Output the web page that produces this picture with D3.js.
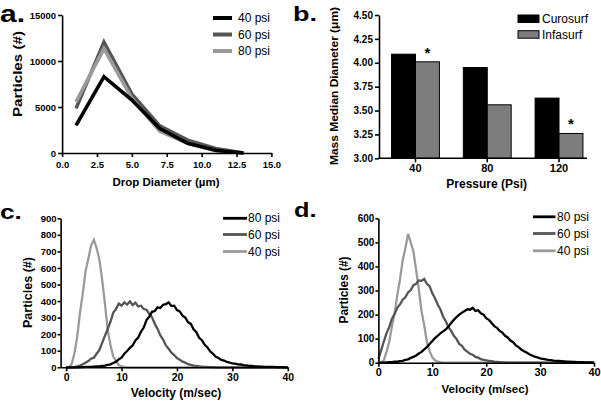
<!DOCTYPE html>
<html><head><meta charset="utf-8">
<script src="https://cdn.jsdelivr.net/npm/d3@7"></script>
<style>
body{margin:0;background:#fff;}
svg{display:block;font-family:"Liberation Sans",Arial,Helvetica,sans-serif;}
</style></head><body>
<svg id="chart" width="601" height="403"></svg>
<script>
// ---------- Panel a: droplet size distribution ----------
const dropDiameters = [1, 3, 5, 7, 9, 11, 13];
const drop40 = [3000, 8300, 5750, 2650, 1050, 300, 0];
const drop60 = [4850, 12050, 6400, 2950, 1400, 480, 0];
const drop80 = [5550, 11350, 5950, 2350, 1050, 250, 0];
const aXTicks = [0, 2.5, 5, 7.5, 10, 12.5, 15];
const aYTicks = [0, 5000, 10000, 15000];
const aLegend = ["40 psi", "60 psi", "80 psi"];

// ---------- Panel b: mass median diameter ----------
const pressures = ["40", "80", "120"];
const surfactants = ["Curosurf", "Infasurf"];
const curosurf = [4.09, 3.95, 3.63];
const infasurf = [4.01, 3.56, 3.26];
const infasurfStar = [true, false, true];
const bYTicks = [3.00, 3.25, 3.50, 3.75, 4.00, 4.25, 4.50];

// ---------- Panels c, d: velocity distributions ----------
const velocity = [
  0,0.5,1,1.5,2,2.5,3,3.5,4,4.5,
  5,5.5,6,6.5,7,7.5,8,8.5,9,9.5,
  10,10.5,11,11.5,12,12.5,13,13.5,14,14.5,
  15,15.5,16,16.5,17,17.5,18,18.5,19,19.5,
  20,20.5,21,21.5,22,22.5,23,23.5,24,24.5,
  25,25.5,26,26.5,27,27.5,28,28.5,29,29.5,
  30,30.5,31,31.5,32,32.5,33,33.5,34,34.5,
  35,35.5,36,36.5,37,37.5,38,38.5,39,39.5,
  40];
const vTicks = [0, 10, 20, 30, 40];
const vLegend = ["80 psi", "60 psi", "40 psi"];

// panel c
const c80 = [
  0,0,0,0,0,1,1,2,2,3,
  4,5,6,8,10,14,18,26,34,48,
  58,82,98,118,132,162,180,215,240,285,
  305,335,340,362,358,378,382,392,370,372,
  345,338,312,300,272,262,230,212,178,164,
  136,120,96,82,64,56,45,41,32,29,
  24,22,18,17,13,12,9,9,6,6,
  4,4,3,2,2,2,1,1,1,0,
  0];
const c60 = [
  0,0,0,2,5,10,18,28,38,52,
  58,82,105,148,190,232,275,330,352,385,
  372,392,378,398,376,390,368,372,352,348,
  322,302,262,232,192,168,132,112,88,74,
  56,46,34,28,19,15,10,8,5,4,
  2,2,1,1,0,0,0,0,0,0,
  0,0,0,0,0,0,0,0,0,0,
  0,0,0,0,0,0,0,0,0,0,
  0];
const c40 = [
  0,0,20,85,185,330,445,580,655,735,
  770,720,650,530,385,225,135,65,38,14,
  6,2,0,0,0,0,0,0,0,0,
  0,0,0,0,0,0,0,0,0,0,
  0,0,0,0,0,0,0,0,0,0,
  0,0,0,0,0,0,0,0,0,0,
  0,0,0,0,0,0,0,0,0,0,
  0,0,0,0,0,0,0,0,0,0,
  0];
const cYTicks = [0,100,200,300,400,500,600,700,800,900];

// panel d
const d80 = [
  0,0,0,1,2,2,4,4,6,8,
  12,14,20,24,30,38,45,55,65,78,
  90,102,112,122,130,138,150,165,178,190,
  200,208,215,222,220,228,215,218,205,200,
  185,178,165,152,145,132,125,112,105,92,
  85,72,65,55,48,42,35,30,25,22,
  18,16,14,12,11,9,8,7,6,5,
  4,4,3,3,2,2,2,1,1,1,
  0];
const d60 = [
  15,50,88,122,148,182,202,228,242,262,
  272,292,302,322,328,342,340,348,328,318,
  288,268,242,222,192,172,148,132,112,98,
  78,70,54,46,37,33,24,21,15,12,
  10,8,6,4,3,2,1,1,0,0,
  0,0,0,0,0,0,0,0,0,0,
  0,0,0,0,0,0,0,0,0,0,
  0,0,0,0,0,0,0,0,0,0,
  0];
const d40 = [
  0,0,10,45,85,150,205,280,345,425,
  475,535,500,462,385,305,215,155,85,48,
  22,10,4,2,0,0,0,0,0,0,
  0,0,0,0,0,0,0,0,0,0,
  0,0,0,0,0,0,0,0,0,0,
  0,0,0,0,0,0,0,0,0,0,
  0,0,0,0,0,0,0,0,0,0,
  0,0,0,0,0,0,0,0,0,0,
  0];
const dYTicks = [0,100,200,300,400,500,600];

// ---------- drawing ----------
const FONT = '"Liberation Sans",Arial,Helvetica,sans-serif';
const BLACK = "#000", DARK = "#555", LIGHT = "#9a9a9a";
const svg = d3.select("#chart");

function styleAxis(g, fs) {
  g.attr("font-family", FONT).attr("font-size", fs).attr("font-weight", "bold");
  g.select(".domain").attr("stroke", BLACK).attr("stroke-width", 1.6);
  g.selectAll(".tick line").attr("stroke", BLACK).attr("stroke-width", 1.6);
  g.selectAll(".tick text").attr("fill", BLACK);
}
function panelLetter(txt, x, y, fs, sx) {
  svg.append("text").text(txt)
    .attr("transform", `translate(${x},${y}) scale(${sx},1)`)
    .attr("font-family", FONT).attr("font-weight", "bold").attr("font-size", fs).attr("fill", BLACK);
}
function yTitle(txt, cx, cy, fs, len) {
  const t = svg.append("text").text(txt)
    .attr("transform", `translate(${cx},${cy}) rotate(-90)`)
    .attr("text-anchor", "middle").attr("dominant-baseline", "central")
    .attr("font-family", FONT).attr("font-weight", "bold").attr("font-size", fs).attr("fill", BLACK);
  if (len) t.attr("textLength", len).attr("lengthAdjust", "spacingAndGlyphs");
}
function xTitle(txt, cx, y, fs) {
  svg.append("text").text(txt).attr("x", cx).attr("y", y)
    .attr("text-anchor", "middle")
    .attr("font-family", FONT).attr("font-weight", "bold").attr("font-size", fs).attr("fill", BLACK);
}
function lineLegend(labels, colors, x0, x1, tx, ys, sw, fs) {
  labels.forEach((lab, i) => {
    svg.append("line").attr("x1", x0).attr("x2", x1).attr("y1", ys[i]).attr("y2", ys[i])
      .attr("stroke", colors[i]).attr("stroke-width", sw);
    svg.append("text").text(lab).attr("x", tx).attr("y", ys[i]).attr("dominant-baseline", "central")
      .attr("font-family", FONT).attr("font-size", fs).attr("fill", BLACK);
  });
}

// ===== Panel a =====
{
  const x = d3.scaleLinear().domain([0, 15]).range([62.1, 271.4]);
  const y = d3.scaleLinear().domain([0, 15000]).range([153, 15]);
  const line = d3.line().x((d, i) => x(dropDiameters[i])).y(d => y(d));
  [[drop60, DARK], [drop80, LIGHT], [drop40, BLACK]].forEach(([s, c]) => {
    svg.append("path").datum(s).attr("d", line).attr("fill", "none")
      .attr("stroke", c).attr("stroke-width", 3.6).attr("stroke-linejoin", "miter");
  });
  const gx = svg.append("g").attr("transform", `translate(0,${y(0)})`)
    .call(d3.axisBottom(x).tickValues(aXTicks).tickFormat(d3.format(".1f")).tickSize(4).tickSizeOuter(0).tickPadding(4));
  styleAxis(gx, 9.5);
  const gy = svg.append("g").attr("transform", `translate(${x(0)},0)`)
    .call(d3.axisLeft(y).tickValues(aYTicks).tickFormat(d3.format("d")).tickSize(4).tickSizeOuter(0).tickPadding(2));
  styleAxis(gy, 9.5);
  lineLegend(aLegend, [BLACK, DARK, LIGHT], 213, 232, 238, [18, 34.5, 51], 4, 12);
  yTitle("Particles (#)", 18, 74, 12, 86);
  xTitle("Drop Diameter (\u00b5m)", 166, 186, 11.5);
  panelLetter("a.", 0, 21.7, 24, 1.25);
}

// ===== Panel b =====
{
  const y = d3.scaleLinear().domain([3, 4.5]).range([158.3, 15]);
  const x0 = d3.scaleBand().domain(pressures).range([379, 595.5]).paddingInner(1/3).paddingOuter(0.175);
  const x1 = d3.scaleBand().domain(surfactants).range([0, x0.bandwidth()]);
  const fills = {Curosurf: BLACK, Infasurf: "#7d7d7d"};
  pressures.forEach((p, i) => {
    [["Curosurf", curosurf[i]], ["Infasurf", infasurf[i]]].forEach(([s, v]) => {
      svg.append("rect").attr("x", x0(p) + x1(s)).attr("width", x1.bandwidth())
        .attr("y", y(v)).attr("height", y(3) - y(v))
        .attr("fill", fills[s]).attr("stroke", BLACK).attr("stroke-width", 1);
    });
    if (infasurfStar[i]) {
      svg.append("text").text("*").attr("x", x0(p) + x1("Infasurf") + x1.bandwidth() / 2)
        .attr("y", y(infasurf[i]) - 4).attr("text-anchor", "middle")
        .attr("font-family", FONT).attr("font-weight", "bold").attr("font-size", 15).attr("fill", BLACK);
    }
  });
  const gy = svg.append("g").attr("transform", "translate(379,0)")
    .call(d3.axisLeft(y).tickValues(bYTicks).tickFormat(d3.format(".2f")).tickSize(4).tickSizeOuter(0).tickPadding(2));
  styleAxis(gy, 10);
  const gx = svg.append("g").attr("transform", `translate(0,${y(3)})`)
    .call(d3.axisBottom(x0).tickSize(4).tickSizeOuter(0).tickPadding(1.5));
  styleAxis(gx, 11);
  gx.select(".domain").remove();
  svg.append("line").attr("x1", 378.2).attr("x2", 587).attr("y1", y(3)).attr("y2", y(3))
    .attr("stroke", BLACK).attr("stroke-width", 1.6);
  // legend
  surfactants.forEach((s, i) => {
    const yy = [15, 30.7][i];
    svg.append("rect").attr("x", 518).attr("y", yy).attr("width", 21).attr("height", 7.5)
      .attr("fill", fills[s]).attr("stroke", BLACK).attr("stroke-width", 1);
    svg.append("text").text(s).attr("x", 542).attr("y", yy + 4).attr("dominant-baseline", "central")
      .attr("font-family", FONT).attr("font-size", 12).attr("fill", BLACK);
  });
  yTitle("Mass Median Diameter (\u03bcm)", 333.7, 86, 11.5, 158);
  xTitle("Pressure (Psi)", 486.7, 187.5, 12);
  panelLetter("b.", 293, 20.5, 20.5, 1.32);
}

// ===== Panel c =====
{
  const x = d3.scaleLinear().domain([-1, 40]).range([60.6, 287.8]);
  const y = d3.scaleLinear().domain([0, 900]).range([367.3, 218.3]);
  const line = d3.line().x((d, i) => x(velocity[i])).y(d => y(d));
  [[c40, LIGHT], [c60, DARK], [c80, BLACK]].forEach(([s, c]) => {
    svg.append("path").datum(s).attr("d", line).attr("fill", "none")
      .attr("stroke", c).attr("stroke-width", 2.3).attr("stroke-linejoin", "miter");
  });
  const gx = svg.append("g").attr("transform", `translate(0,${y(0)})`)
    .call(d3.axisBottom(x).tickValues(vTicks).tickSize(4).tickSizeOuter(0).tickPadding(2));
  styleAxis(gx, 10.5);
  const gy = svg.append("g").attr("transform", `translate(${x(-1)},0)`)
    .call(d3.axisLeft(y).tickValues(cYTicks).tickSize(3).tickSizeOuter(0).tickPadding(1));
  styleAxis(gy, 9.5);
  lineLegend(vLegend, [BLACK, DARK, LIGHT], 223, 247, 248, [218.3, 234.5, 251.5], 2.8, 12);
  yTitle("Particles (#)", 28, 292.5, 12, 71);
  xTitle("Velocity (m/sec)", 176, 397, 12);
  panelLetter("c.", 0, 218.5, 21, 1.25);
}

// ===== Panel d =====
{
  const x = d3.scaleLinear().domain([0, 40]).range([378.4, 594]);
  const y = d3.scaleLinear().domain([0, 600]).range([362.7, 218.3]);
  const line = d3.line().x((d, i) => x(velocity[i])).y(d => y(d));
  [[d40, LIGHT], [d60, DARK], [d80, BLACK]].forEach(([s, c]) => {
    svg.append("path").datum(s).attr("d", line).attr("fill", "none")
      .attr("stroke", c).attr("stroke-width", 2.3).attr("stroke-linejoin", "miter");
  });
  const gx = svg.append("g").attr("transform", `translate(0,${y(0)})`)
    .call(d3.axisBottom(x).tickValues(vTicks).tickSize(4).tickSizeOuter(0).tickPadding(2));
  styleAxis(gx, 11);
  const gy = svg.append("g").attr("transform", `translate(${x(0)},0)`)
    .call(d3.axisLeft(y).tickValues(dYTicks).tickSize(3).tickSizeOuter(0).tickPadding(1));
  styleAxis(gy, 10);
  lineLegend(vLegend, [BLACK, DARK, LIGHT], 533, 555.5, 557, [216.8, 233.5, 250.8], 2.8, 12);
  yTitle("Particles (#)", 343.8, 290, 12, 67);
  xTitle("Velocity (m/sec)", 485, 393, 11.5);
  panelLetter("d.", 294, 216.5, 19.5, 1.3);
}
</script>
</body></html>
